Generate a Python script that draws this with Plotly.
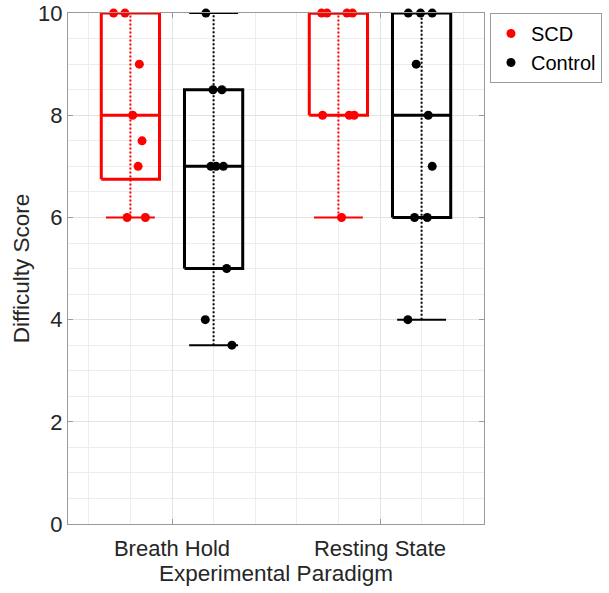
import plotly.graph_objects as go

# ---------------- data ----------------
paradigms = ["Breath Hold", "Resting State"]
paradigm_pos = [1, 2]
groups = ["SCD", "Control"]
group_shift = {"SCD": -0.2, "Control": 0.2}
group_color = {"SCD": "#ff0000", "Control": "#000000"}

# box statistics per group, ordered as paradigms
q1 = {"SCD": [6.75, 8.0], "Control": [5.0, 6.0]}
median = {"SCD": [8.0, 10.0], "Control": [7.0, 8.0]}
q3 = {"SCD": [10.0, 10.0], "Control": [8.5, 10.0]}
whisker_low = {"SCD": [6.0, 6.0], "Control": [3.5, 4.0]}
whisker_high = {"SCD": [10.0, 10.0], "Control": [10.0, 10.0]}

# individual difficulty scores and their horizontal jitter
scd_breath = [10, 10, 9, 8, 7.5, 7, 6, 6]
scd_breath_jitter = [-0.081, -0.026, 0.043, 0.011, 0.056, 0.037, -0.016, 0.072]
scd_rest = [10, 10, 10, 10, 8, 8, 8, 6]
scd_rest_jitter = [-0.081, -0.055, 0.041, 0.068, -0.076, 0.052, 0.076, 0.015]
ctrl_breath = [10, 8.5, 8.5, 7, 7, 7, 5, 4, 3.5]
ctrl_breath_jitter = [-0.037, -0.003, 0.040, -0.013, 0.012, 0.047, 0.063, -0.040, 0.088]
ctrl_rest = [10, 10, 10, 9, 8, 7, 6, 6, 4]
ctrl_rest_jitter = [-0.064, -0.005, 0.051, -0.026, 0.032, 0.051, -0.034, 0.027, -0.066]

y_ticks = [0, 2, 4, 6, 8, 10]

points = {
    "SCD": [(scd_breath, scd_breath_jitter), (scd_rest, scd_rest_jitter)],
    "Control": [(ctrl_breath, ctrl_breath_jitter), (ctrl_rest, ctrl_rest_jitter)],
}

BOX_W = 0.28
CAP_W = 0.235
FONT = "Liberation Sans, Arial, sans-serif"
TXT = "#262626"
AX = "#9a9a9a"
FS = 22

fig = go.Figure()

# whiskers and caps
for g in groups:
    for i, p in enumerate(paradigm_pos):
        c = p + group_shift[g]
        col = group_color[g]
        fig.add_trace(go.Scatter(
            x=[c, c], y=[whisker_low[g][i], whisker_high[g][i]], mode="lines",
            line=dict(color=col, width=2, dash="2px,2px"),
            showlegend=False, hoverinfo="skip", cliponaxis=False))
        fig.add_trace(go.Scatter(
            x=[c - CAP_W / 2, c + CAP_W / 2, None, c - CAP_W / 2, c + CAP_W / 2],
            y=[whisker_low[g][i], whisker_low[g][i], None, whisker_high[g][i], whisker_high[g][i]],
            mode="lines", line=dict(color=col, width=2),
            showlegend=False, hoverinfo="skip", cliponaxis=False))

# boxes and medians
for g in groups:
    for i, p in enumerate(paradigm_pos):
        c = p + group_shift[g]
        col = group_color[g]
        l, r = c - BOX_W / 2, c + BOX_W / 2
        fig.add_trace(go.Scatter(
            x=[l, r, r, l, l, None, l, r],
            y=[q1[g][i], q1[g][i], q3[g][i], q3[g][i], q1[g][i], None, median[g][i], median[g][i]],
            mode="lines", line=dict(color=col, width=3),
            showlegend=False, hoverinfo="skip", cliponaxis=False))

# individual points
for g in groups:
    for i, p in enumerate(paradigm_pos):
        vals, jit = points[g][i]
        c = p + group_shift[g]
        fig.add_trace(go.Scatter(
            x=[c + j for j in jit], y=vals, mode="markers",
            marker=dict(color=group_color[g], size=9),
            name=g, legendgroup=g, showlegend=(i == 0), cliponaxis=False))

fig.update_layout(
    width=609, height=593,
    margin=dict(l=68, r=125, t=13, b=69, autoexpand=False),
    paper_bgcolor="white", plot_bgcolor="white",
    font=dict(family=FONT, size=FS, color=TXT),
    legend=dict(
        x=1.0144, y=1.0, xanchor="left", yanchor="top",
        bordercolor=AX, borderwidth=1, bgcolor="white",
        font=dict(size=20, color="#000000"), tracegroupgap=0,
    ),
)

fig.update_xaxes(
    range=[0.5, 2.5], tickmode="array", tickvals=paradigm_pos, ticktext=paradigms,
    showline=True, linecolor=AX, linewidth=1, mirror="ticks",
    ticks="inside", ticklen=5, tickcolor=AX, ticklabelstandoff=5,
    showgrid=True, gridcolor="#e3e3e3", gridwidth=1,
    minor=dict(tick0=0, dtick=0.2, showgrid=True, gridcolor="#ededed", ticks=""),
    zeroline=False, automargin=False,
    title=dict(text="Experimental Paradigm", font=dict(size=22.5, color=TXT), standoff=2),
    tickfont=dict(size=FS, color=TXT),
)
fig.update_yaxes(
    range=[0, 10.002], tickmode="array", tickvals=y_ticks,
    showline=True, linecolor=AX, linewidth=1, mirror="ticks",
    ticks="inside", ticklen=5, tickcolor=AX, ticklabeloverflow="allow",
    showgrid=True, gridcolor="#e3e3e3", gridwidth=1,
    minor=dict(tick0=0, dtick=0.5, showgrid=True, gridcolor="#ededed", ticks=""),
    zeroline=False, automargin=False,
    title=dict(text="Difficulty Score", font=dict(size=22.5, color=TXT), standoff=2),
    tickfont=dict(size=FS, color=TXT),
)

fig.write_html("out.html", config={"displayModeBar": False},
               post_script="document.body.style.margin='0px';")
